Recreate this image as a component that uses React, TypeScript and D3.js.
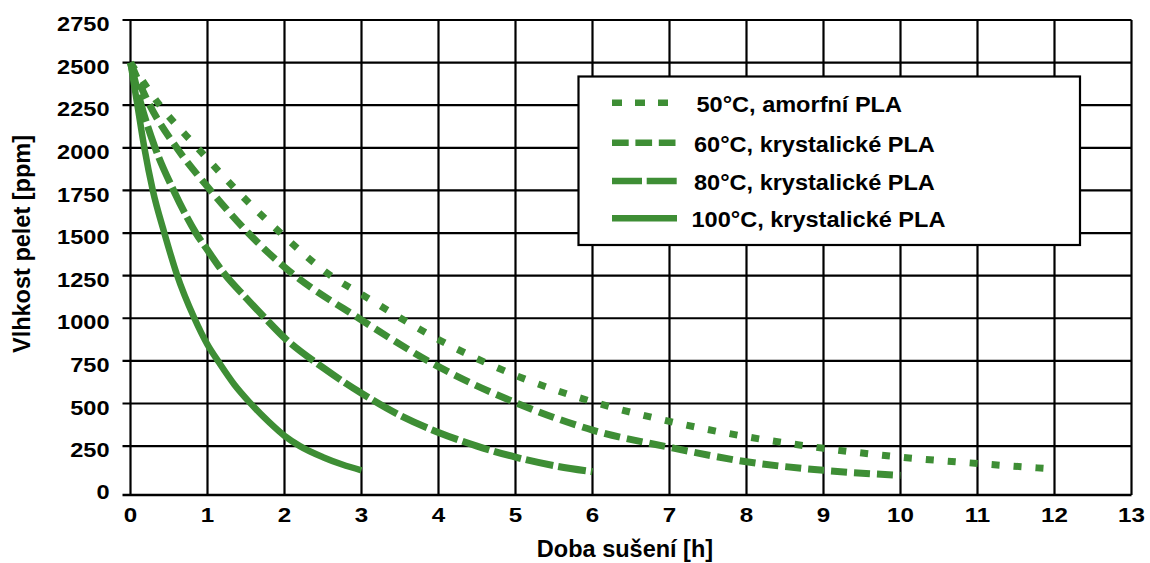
import React, { useRef, useEffect } from "react";
import * as d3 from "d3";

// doba sušení [h] a vlhkost [ppm]
const t50 = [0, 0.38, 0.87, 1.38, 1.95, 2.6, 3, 4, 5, 6, 7, 8, 9, 10, 11, 12];
const v50 = [2500, 2250, 2000, 1750, 1500, 1250, 1140, 875, 665, 510, 395, 305, 237, 185, 148, 115];

const t60 = [0, 0.25, 0.6, 1.04, 1.53, 2, 3, 4, 5, 6, 7, 8, 9, 10];
const v60 = [2500, 2250, 2000, 1750, 1500, 1300, 990, 716, 505, 344, 243, 158, 108, 78];

const t80 = [0, 0.14, 0.32, 0.56, 0.85, 1, 1.22, 1.5, 1.75, 2, 2.5, 3, 3.5, 4, 4.5, 5, 5.5, 6];
const v80 = [2500, 2250, 2000, 1750, 1500, 1400, 1260, 1120, 1000, 885, 710, 560, 430, 330, 250, 185, 135, 100];

const t100 = [0, 0.09, 0.18, 0.29, 0.44, 0.6, 0.83, 1, 1.15, 1.35, 1.55, 1.8, 2, 2.2, 2.5, 2.75, 3];
const v100 = [2500, 2250, 2000, 1750, 1500, 1260, 1000, 845, 740, 610, 505, 390, 310, 250, 185, 142, 108];

const xTicks = [0, 1, 2, 3, 4, 5, 6, 7, 8, 9, 10, 11, 12, 13];
const yTicks = [0, 250, 500, 750, 1000, 1250, 1500, 1750, 2000, 2250, 2500, 2750];

const seriesLabels = [
  "50°C, amorfní PLA",
  "60°C, krystalické PLA",
  "80°C, krystalické PLA",
  "100°C, krystalické PLA",
];
const dashes = ["8,14", "16,7", "28,5", null];

const green = "#3e8e35";
const font = "'Liberation Sans', Arial, sans-serif";

const App = () => {
  const svgRef = useRef<SVGSVGElement | null>(null);

  useEffect(() => {
    const svg = d3.select(svgRef.current);
    svg.selectAll("*").remove();

    const W = 1150;
    const H = 563;
    const plot = { left: 130.5, right: 1131.5, top: 20, bottom: 495 };

    svg.attr("width", W).attr("height", H);
    svg.append("rect").attr("width", W).attr("height", H).attr("fill", "#fff");

    // Škály (osa y začíná kousek pod nulou jako v originálu)
    const x = d3.scaleLinear().domain([0, 13]).range([plot.left, plot.right]);
    const y = d3.scaleLinear().domain([-37, 2750]).range([plot.bottom, plot.top]);

    const grid = svg.append("g").attr("stroke", "#000").attr("stroke-width", 2.2);

    // vodorovná mřížka + značky vlevo
    grid.selectAll(".h")
      .data(yTicks.filter(d => d > 0))
      .enter()
      .append("line")
      .attr("x1", x(0) - 8)
      .attr("x2", x(13))
      .attr("y1", d => y(d))
      .attr("y2", d => y(d));

    // svislá mřížka
    grid.selectAll(".v")
      .data(xTicks)
      .enter()
      .append("line")
      .attr("x1", d => x(d))
      .attr("x2", d => x(d))
      .attr("y1", y(2750))
      .attr("y2", y(-37));

    // osa x
    grid.append("line")
      .attr("x1", x(0) - 8)
      .attr("x2", x(13))
      .attr("y1", y(-37))
      .attr("y2", y(-37))
      .attr("stroke-width", 2.6);

    // popisky osy y
    svg.append("g")
      .selectAll("text")
      .data(yTicks)
      .enter()
      .append("text")
      .attr("transform", d => `translate(${x(0) - 21},${d === 0 ? y(0) + 3 : y(d) + 4}) scale(1.15,1)`)
      .attr("text-anchor", "end")
      .attr("dy", "0.35em")
      .style("font-family", font)
      .style("font-weight", "bold")
      .style("font-size", "20.5px")
      .text(d => d);

    // popisky osy x
    svg.append("g")
      .selectAll("text")
      .data(xTicks)
      .enter()
      .append("text")
      .attr("transform", d => `translate(${x(d)},${plot.bottom + 26.7}) scale(1.15,1)`)
      .attr("text-anchor", "middle")
      .style("font-family", font)
      .style("font-weight", "bold")
      .style("font-size", "21px")
      .text(d => d);

    // křivky
    const line = d3.line<[number, number]>()
      .x(d => x(d[0]))
      .y(d => y(d[1]))
      .curve(d3.curveMonotoneX);

    const series: [number, number][][] = [
      t50.map((t, i) => [t, v50[i]]),
      t60.map((t, i) => [t, v60[i]]),
      t80.map((t, i) => [t, v80[i]]),
      t100.map((t, i) => [t, v100[i]]),
    ];

    svg.append("g")
      .selectAll("path")
      .data(series)
      .enter()
      .append("path")
      .attr("d", d => line(d))
      .attr("fill", "none")
      .attr("stroke", green)
      .attr("stroke-width", (d, i) => (i === 3 ? 6.5 : 7))
      .attr("stroke-dasharray", (d, i) => dashes[i])
      .attr("stroke-linecap", "butt");

    // Legenda
    const legend = svg.append("g");
    legend.append("rect")
      .attr("x", 578.5)
      .attr("y", 76.5)
      .attr("width", 501.5)
      .attr("height", 168.5)
      .attr("fill", "#fff")
      .attr("stroke", "#000")
      .attr("stroke-width", 2.2);

    const rowY = [102.7, 142.7, 181, 218.3];
    const legendDash = ["10,13", "16.7,6.7", "30,4.7", null];
    const textX = [696.5, 694, 694, 691.5];

    seriesLabels.forEach((label, i) => {
      legend.append("line")
        .attr("x1", 612)
        .attr("x2", 677)
        .attr("y1", rowY[i])
        .attr("y2", rowY[i])
        .attr("stroke", green)
        .attr("stroke-width", 6.5)
        .attr("stroke-dasharray", legendDash[i]);

      legend.append("text")
        .attr("transform", `translate(${textX[i]},${rowY[i] + 9}) scale(1.07,1)`)
        .style("font-family", font)
        .style("font-weight", "bold")
        .style("font-size", "22px")
        .text(label);
    });

    // Popisky os
    svg.append("text")
      .attr("x", 625)
      .attr("y", 557)
      .attr("text-anchor", "middle")
      .style("font-family", font)
      .style("font-weight", "bold")
      .style("font-size", "23.5px")
      .text("Doba sušení [h]");

    svg.append("text")
      .attr("transform", "rotate(-90)")
      .attr("x", -244)
      .attr("y", 30)
      .attr("text-anchor", "middle")
      .style("font-family", font)
      .style("font-weight", "bold")
      .style("font-size", "23.5px")
      .text("Vlhkost pelet [ppm]");
  }, []);

  return (
    <svg
      ref={svgRef}
      style={{ position: "absolute", left: 0, top: 0, display: "block" }}
    ></svg>
  );
};

export default App;
